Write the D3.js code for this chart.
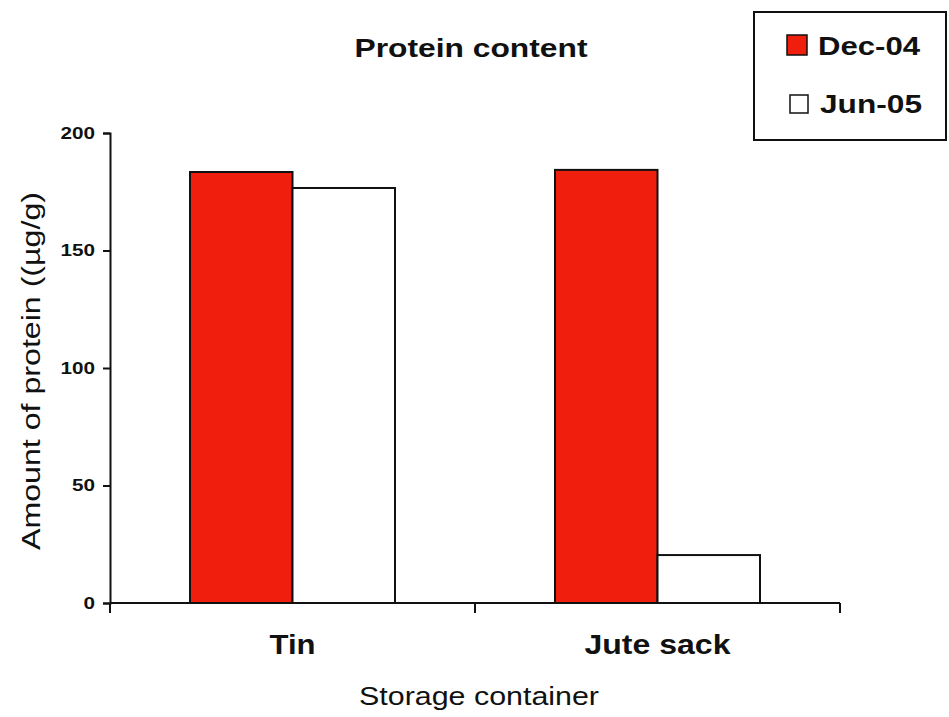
<!DOCTYPE html>
<html><head><meta charset="utf-8">
<script src="https://cdn.jsdelivr.net/npm/d3@7"></script>
<style>body{margin:0;background:#fff}svg{display:block;font-family:"Liberation Sans",Arial,sans-serif}</style>
</head><body>
<svg id="c" width="949" height="717"></svg>
<script>
const categories = ["Tin", "Jute sack"];
const seriesNames = ["Dec-04", "Jun-05"];
const dec04 = [183.4, 184.3];
const jun05 = [176.6, 20.4];
const yTicks = [0, 50, 100, 150, 200];
const colors = ["#f01e0c", "#ffffff"];

const svg = d3.select("#c");
const x0 = d3.scaleBand().domain(categories).range([110, 840]).paddingInner(0).paddingOuter(0);
const y = d3.scaleLinear().domain([0, 200]).range([603, 133]);
const bandPad = 80;
const x1 = d3.scaleBand().domain(seriesNames).range([bandPad, x0.bandwidth() - bandPad]);

const data = categories.map((c, i) => ({cat: c, vals: [dec04[i], jun05[i]]}));

svg.append("text").attr("x", 471).attr("y", 57).attr("text-anchor", "middle")
  .attr("font-size", 26).attr("font-weight", "bold").attr("fill", "#111")
  .attr("textLength", 233).attr("lengthAdjust", "spacingAndGlyphs").text("Protein content");

const g = svg.append("g");
data.forEach(d => {
  d.vals.forEach((v, j) => {
    g.append("rect")
      .attr("x", x0(d.cat) + x1(seriesNames[j]))
      .attr("y", y(v))
      .attr("width", x1.bandwidth())
      .attr("height", y(0) - y(v))
      .attr("fill", colors[j]).attr("stroke", "#111").attr("stroke-width", 2);
  });
});

// y axis
const ya = svg.append("g").attr("transform", "translate(110,0)")
  .call(d3.axisLeft(y).tickValues(yTicks).tickSize(7).tickPadding(8));
ya.select(".domain").attr("stroke", "#111").attr("stroke-width", 2);
ya.selectAll(".tick line").attr("stroke", "#111").attr("stroke-width", 2);
ya.selectAll(".tick text").attr("font-size", 16).attr("font-weight", "bold").attr("fill", "#111")
  .attr("font-family", "Liberation Sans, Arial, sans-serif")
  .attr("textLength", d => String(d).length * 11.5).attr("lengthAdjust", "spacingAndGlyphs");

// x axis
const xa = svg.append("g").attr("transform", "translate(0,603)");
xa.append("line").attr("x1", 110).attr("x2", 840).attr("stroke", "#111").attr("stroke-width", 2);
const bounds = [110, 110 + x0.bandwidth(), 840];
bounds.forEach(b => xa.append("line").attr("x1", b).attr("x2", b).attr("y1", 0).attr("y2", 10)
  .attr("stroke", "#111").attr("stroke-width", 2));
const catWidths = [46, 146];
categories.forEach((c, i) => {
  xa.append("text").attr("x", x0(c) + x0.bandwidth() / 2).attr("y", 51)
    .attr("text-anchor", "middle").attr("font-size", 27).attr("font-weight", "bold").attr("fill", "#111")
    .attr("textLength", catWidths[i]).attr("lengthAdjust", "spacingAndGlyphs").text(c);
});

svg.append("text").attr("x", 479).attr("y", 705).attr("text-anchor", "middle")
  .attr("font-size", 26).attr("fill", "#111")
  .attr("textLength", 240).attr("lengthAdjust", "spacingAndGlyphs").text("Storage container");
svg.append("text").attr("transform", "translate(40,371) rotate(-90)").attr("text-anchor", "middle")
  .attr("font-size", 26).attr("fill", "#111")
  .attr("textLength", 358).attr("lengthAdjust", "spacingAndGlyphs").text("Amount of protein ((µg/g)");

// legend
const lg = svg.append("g");
lg.append("rect").attr("x", 754).attr("y", 12).attr("width", 192).attr("height", 128)
  .attr("fill", "#fff").attr("stroke", "#111").attr("stroke-width", 2);
const sw = [{x: 787, y: 35, s: 20}, {x: 790, y: 95, s: 18}];
const tx = [{x: 818, y: 55}, {x: 820, y: 113}];
seriesNames.forEach((s, j) => {
  lg.append("rect").attr("x", sw[j].x).attr("y", sw[j].y).attr("width", sw[j].s).attr("height", sw[j].s)
    .attr("fill", colors[j]).attr("stroke", "#111").attr("stroke-width", 1.5);
  lg.append("text").attr("x", tx[j].x).attr("y", tx[j].y).attr("font-size", 26).attr("font-weight", "bold")
    .attr("fill", "#111").attr("textLength", 102).attr("lengthAdjust", "spacingAndGlyphs").text(s);
});
</script>
</body></html>
